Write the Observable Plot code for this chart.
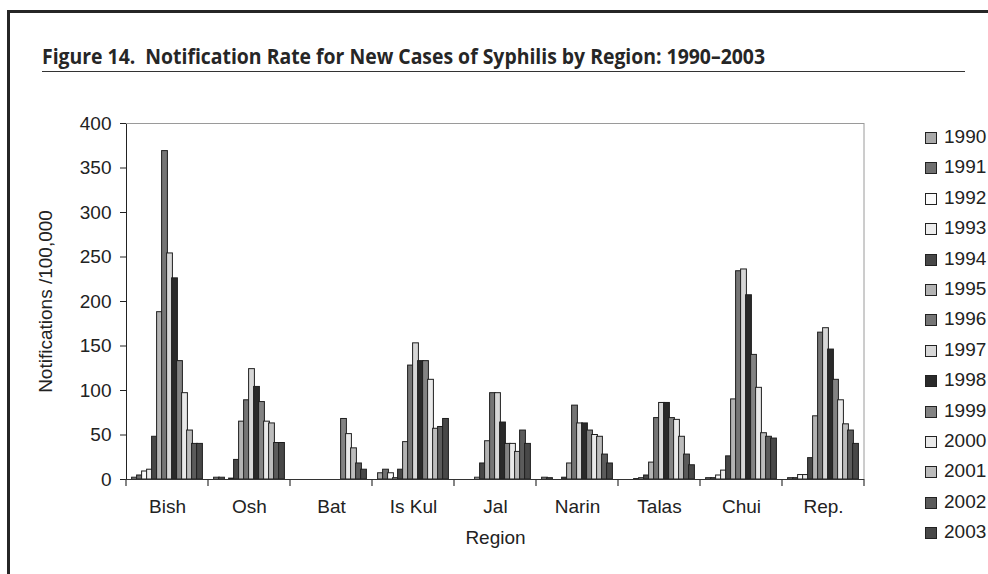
<!DOCTYPE html>
<html>
<head>
<meta charset="utf-8">
<script src="https://cdn.jsdelivr.net/npm/d3@7"></script>
<script src="https://cdn.jsdelivr.net/npm/@observablehq/plot@0.6"></script>
<style>
  html, body { margin: 0; padding: 0; background: #fff; overflow: hidden; }
  body { width: 988px; height: 574px; position: relative; font-family: "Liberation Sans", Arial, sans-serif; color: #222; }
  #frame { position: absolute; left: 7px; top: 10px; width: 981px; height: 564px; border-top: 3px solid #262626; border-left: 3px solid #262626; box-sizing: border-box; }
  #title { position: absolute; left: 42px; top: 40px; font-family: "Open Sans", sans-serif; font-weight: 700; font-size: 22px; color: #262626; white-space: nowrap; transform-origin: 0 0; }
  #rule { position: absolute; left: 42px; top: 71px; width: 923px; border-top: 1.2px solid #333; }
  #chart { position: absolute; left: 0; top: 0; }
  #legend { position: absolute; left: 925px; top: 126px; }
  .item { position: absolute; left: 0; height: 22px; white-space: nowrap; font-size: 19px; font-family: "Liberation Sans", Arial, sans-serif; }
  .sw { position: absolute; left: 0; top: 6px; width: 10px; height: 10px; border: 1px solid #222; }
  .lb { position: absolute; left: 19px; top: 0; line-height: 22px; }
</style>
</head>
<body>
<div id="frame"></div>
<div id="title">Figure 14.&nbsp; Notification Rate for New Cases of Syphilis by Region: 1990–2003</div>
<div id="rule"></div>
<div id="chart"></div>
<div id="legend"></div>
<script>
// ---- Data ----
const regions = ["Bish", "Osh", "Bat", "Is Kul", "Jal", "Narin", "Talas", "Chui", "Rep."];
const years = [1990, 1991, 1992, 1993, 1994, 1995, 1996, 1997, 1998, 1999, 2000, 2001, 2002, 2003];

const bish  = [2, 4.5, 9, 11, 48, 188, 369, 254, 226, 133, 97, 55, 40, 40];
const osh   = [2, 2, 0, 1, 22, 65, 89, 124, 104, 87, 65, 63, 41, 41];
const bat   = [null, null, null, null, null, null, null, null, null, 68, 51, 35, 18, 11];
const isKul = [7, 11, 7, 1.5, 11, 42, 128, 153, 133, 133, 112, 57, 59, 68];
const jal   = [0, 0, 0, 2, 18, 43, 97, 97, 64, 40, 40, 31, 55, 40];
const narin = [2, 1.5, 0, 0, 2, 18, 83, 63, 63, 55, 50, 48, 28, 18];
const talas = [0, 0, 0.5, 1.5, 4.5, 19, 69, 86, 86, 69, 67, 48, 28, 16];
const chui  = [1.5, 1.5, 4.5, 10, 26, 90, 234, 236, 207, 140, 103, 52, 48, 46];
const rep   = [1.5, 1.5, 5, 5, 24, 71, 165, 170, 146, 112, 89, 62, 55, 40];

const yTicks = [0, 50, 100, 150, 200, 250, 300, 350, 400];
const yearColors = ["#a9a9a9", "#6f6f6f", "#fbfbfb", "#ededed", "#474747", "#b3b3b3", "#757575",
                    "#d7d7d7", "#2a2a2a", "#838383", "#e9e9e9", "#bcbcbc", "#5b5b5b", "#484848"];

const series = [bish, osh, bat, isKul, jal, narin, talas, chui, rep];
const data = [];
regions.forEach((r, i) => series[i].forEach((v, j) => {
  if (v != null) data.push({region: r, year: years[j], value: v});
}));

const FONT = "'Liberation Sans', Arial, sans-serif";

const chart = Plot.plot({
  width: 988,
  height: 574,
  marginLeft: 125,
  marginRight: 124,
  marginTop: 123,
  marginBottom: 95,
  style: `font-family: ${FONT}; font-size: 19px; color: #222; background: transparent; overflow: visible;`,
  fx: {domain: regions, paddingInner: 0, paddingOuter: 0, axis: "bottom", tickSize: 0, tickPadding: 20,
       label: "Region", labelAnchor: "center", labelOffset: 64, labelArrow: "none"},
  x: {domain: years, paddingInner: 0, paddingOuter: 0.72, axis: null},
  y: {domain: [0, 400], ticks: yTicks, tickSize: 6, tickPadding: 9, line: true,
      label: "Notifications /100,000", labelAnchor: "center", labelOffset: 88, labelArrow: "none"},
  color: {domain: years, range: yearColors},
  marks: [
    Plot.ruleY([400], {stroke: "#9a9a9a", strokeWidth: 1}),
    Plot.barY(data, {fx: "region", x: "year", y: "value", fill: "year",
                     stroke: "#1e1e1e", strokeWidth: 1, insetLeft: -0.4, insetRight: -0.4}),
    Plot.ruleY([0], {stroke: "#333", strokeWidth: 1.2})
  ]
});

// Category boundary ticks and right border, placed with the fx scale
const fx = chart.scale("fx");
const yS = chart.scale("y");
const svg = d3.select(chart);
svg.selectAll("text").attr("font-family", FONT).attr("font-size", 19)
  .each(function () { // strip any label arrow
    const t = d3.select(this);
    if (t.selectAll("tspan").empty()) t.text(t.text().replace(/[\u2190-\u2193]/g, "").trim());
  });
const g = svg.append("g");
const y0 = yS.apply(0), yTop = yS.apply(400);
const bounds = regions.map(r => fx.apply(r)).concat([fx.apply(regions[regions.length - 1]) + fx.bandwidth]);
bounds.forEach(bx => {
  g.append("line").attr("x1", bx).attr("x2", bx).attr("y1", y0).attr("y2", y0 + 7)
    .attr("stroke", "#333").attr("stroke-width", 1.2);
});
g.append("line").attr("x1", bounds[bounds.length - 1]).attr("x2", bounds[bounds.length - 1])
  .attr("y1", yTop).attr("y2", y0).attr("stroke", "#9a9a9a").attr("stroke-width", 1);

document.getElementById("chart").appendChild(chart);

// Legend
const legend = document.getElementById("legend");
years.forEach((yr, i) => {
  const it = document.createElement("div");
  it.className = "item";
  it.style.top = (i * 30.4) + "px";
  it.innerHTML = `<div class="sw" style="background:${yearColors[i]}"></div><div class="lb">${yr}</div>`;
  legend.appendChild(it);
});

// Fit title width to reference
const t = document.getElementById("title");
const w = t.getBoundingClientRect().width;
t.style.transform = `scaleX(${723 / w})`;
</script>
</body>
</html>
